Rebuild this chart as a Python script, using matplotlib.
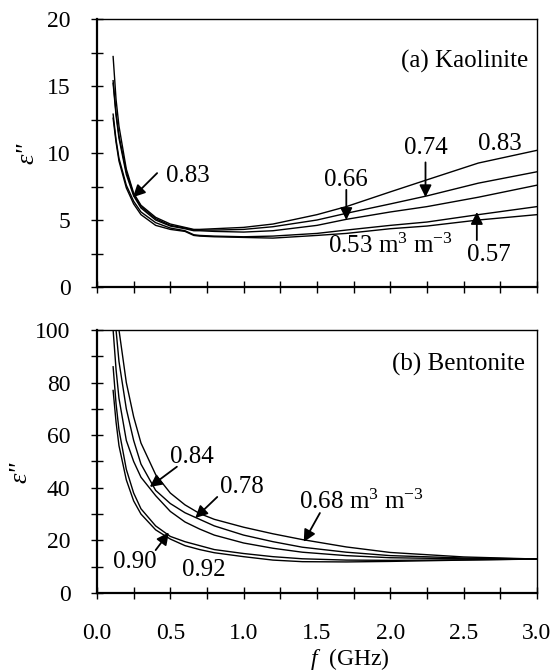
import matplotlib
matplotlib.use("Agg")
import matplotlib.pyplot as plt
from matplotlib.ticker import MultipleLocator

plt.rcParams["font.family"] = ["Liberation Serif", "DejaVu Serif"]
plt.rcParams["mathtext.fontset"] = "custom"
plt.rcParams["mathtext.rm"] = "Liberation Serif"
plt.rcParams["mathtext.it"] = "Liberation Serif:italic"

# (a) Kaolinite: imaginary permittivity vs frequency (GHz)
f_kao = [0.11, 0.13, 0.15, 0.2, 0.25, 0.3, 0.4, 0.5, 0.6, 0.66, 0.7, 0.8, 1.0,
         1.2, 1.5, 1.7, 2.0, 2.25, 2.6, 3.0]
kao_083 = [17.2, 14.0, 12.0, 8.8, 7.0, 6.1, 5.2, 4.7, 4.45, 4.3, 4.3, 4.35, 4.45,
           4.7, 5.4, 6.0, 7.1, 8.0, 9.25, 10.2]
kao_074 = [15.4, 13.0, 11.3, 8.6, 6.9, 6.0, 5.1, 4.6, 4.4, 4.25, 4.25, 4.25, 4.3,
           4.5, 5.0, 5.5, 6.2, 6.8, 7.75, 8.6]
kao_066 = [15.2, 12.8, 11.1, 8.4, 6.8, 5.9, 5.0, 4.55, 4.35, 4.2, 4.2, 4.15, 4.1,
           4.2, 4.6, 5.05, 5.6, 6.0, 6.7, 7.6]
kao_057 = [12.9, 11.0, 9.6, 7.6, 6.4, 5.6, 4.8, 4.4, 4.2, 3.9, 3.85, 3.8, 3.75,
           3.8, 4.0, 4.25, 4.6, 4.85, 5.4, 6.0]
kao_053 = [12.6, 10.8, 9.4, 7.4, 6.2, 5.4, 4.6, 4.3, 4.15, 3.85, 3.8, 3.75, 3.7,
           3.65, 3.85, 4.0, 4.35, 4.55, 5.0, 5.4]

# (b) Bentonite
f_ben = [0.11, 0.13, 0.15, 0.2, 0.25, 0.3, 0.4, 0.5, 0.6, 0.7, 0.8, 1.0, 1.2,
         1.4, 1.7, 2.0, 2.5, 3.0]
ben_068 = [130, 115, 100, 80, 67, 57, 45, 38, 33.5, 30.2, 28, 25, 22.5,
           20.3, 17.5, 15.4, 13.7, 12.9]
ben_078 = [115, 100, 88, 70, 58, 49, 39, 34, 30.5, 28, 25.5, 22, 19.5,
           17.4, 15.5, 14.2, 13.3, 12.9]
ben_084 = [100, 85, 74, 58, 50, 44, 37, 31, 27, 24.3, 22, 19, 17,
           15.5, 14.2, 13.4, 13.0, 12.9]
ben_090 = [86, 72, 62, 47, 38, 32, 25.5, 21.5, 19.5, 18, 16.5, 15, 13.8,
           13.0, 12.5, 12.4, 12.6, 12.9]
ben_092 = [77, 65, 56, 43, 35, 30, 24, 20.5, 18, 16.5, 15.3, 13.8, 12.5,
           11.9, 11.8, 12.0, 12.5, 12.9]

fig = plt.figure(figsize=(5.58, 6.72), dpi=100)
ax1 = fig.add_axes([0.1738, 0.5729, 0.7885, 0.3988])
ax2 = fig.add_axes([0.1738, 0.1176, 0.7885, 0.3914])

for y in [kao_083, kao_074, kao_066, kao_057, kao_053]:
    ax1.plot(f_kao, y, color="k", lw=1.0)
for y in [ben_068, ben_078, ben_084, ben_090, ben_092]:
    ax2.plot(f_ben, y, color="k", lw=1.0)

for ax, ymax, major in [(ax1, 20, 5), (ax2, 100, 20)]:
    ax.set_xlim(0, 3.0)
    ax.set_ylim(0, ymax)
    ax.xaxis.set_major_locator(MultipleLocator(0.5))
    ax.xaxis.set_minor_locator(MultipleLocator(0.25))
    ax.yaxis.set_major_locator(MultipleLocator(major))
    ax.yaxis.set_minor_locator(MultipleLocator(major / 2))
    ax.tick_params(axis="x", which="both", direction="inout", length=9, width=1,
                   labelsize=17, pad=17)
    ax.tick_params(axis="y", which="both", direction="inout", length=8, width=1,
                   labelsize=17, pad=15)
    for s in ["left", "bottom"]:
        ax.spines[s].set_linewidth(1.6)
    for s in ["top", "right"]:
        ax.spines[s].set_linewidth(1.0)
    ax.set_ylabel('ε"', fontsize=19, style="italic")

ax1.tick_params(axis="x", labelbottom=False)
ax1.yaxis.set_label_coords(-0.134, 0.5)
ax2.yaxis.set_label_coords(-0.15, 0.46)
ax2.xaxis.set_major_formatter(plt.FormatStrFormatter("%.1f"))
ax2.set_xlabel(r"$\mathit{f}$  (GHz)", fontsize=17)
ax2.xaxis.set_label_coords(0.575, -0.2)

arrow = dict(arrowstyle="-|>", color="k", lw=1.3, mutation_scale=18,
             shrinkA=0, shrinkB=0)
fs = 18

# panel (a) labels
ax1.text(2.94, 16.8, "(a) Kaolinite", ha="right", va="center", fontsize=fs)
ax1.annotate("", xy=(0.245, 6.7), xytext=(0.41, 8.5), arrowprops=arrow)
ax1.text(0.47, 8.3, "0.83", ha="left", va="center", fontsize=fs)
ax1.annotate("", xy=(1.70, 5.0), xytext=(1.70, 7.25), arrowprops=arrow)
ax1.text(1.70, 8.0, "0.66", ha="center", va="center", fontsize=fs)
ax1.annotate("", xy=(2.24, 6.7), xytext=(2.24, 9.3), arrowprops=arrow)
ax1.text(2.24, 10.4, "0.74", ha="center", va="center", fontsize=fs)
ax1.text(2.75, 10.7, "0.83", ha="center", va="center", fontsize=fs)
ax1.text(2.0, 3.1, r"0.53 m$^{3}$ m$^{-3}$", ha="center", va="center", fontsize=fs)
ax1.annotate("", xy=(2.59, 5.6), xytext=(2.59, 3.5), arrowprops=arrow)
ax1.text(2.67, 2.4, "0.57", ha="center", va="center", fontsize=fs)

# panel (b) labels
ax2.text(2.92, 86.7, "(b) Bentonite", ha="right", va="center", fontsize=fs)
ax2.annotate("", xy=(0.36, 40.3), xytext=(0.545, 48), arrowprops=arrow)
ax2.text(0.65, 51.7, "0.84", ha="center", va="center", fontsize=fs)
ax2.annotate("", xy=(0.67, 28.5), xytext=(0.82, 36.5), arrowprops=arrow)
ax2.text(0.99, 40.3, "0.78", ha="center", va="center", fontsize=fs)
ax2.annotate("", xy=(1.41, 19.4), xytext=(1.52, 30.4), arrowprops=arrow)
ax2.text(1.38, 34.6, r"0.68 m$^{3}$ m$^{-3}$", ha="left", va="center", fontsize=fs)
ax2.annotate("", xy=(0.49, 23), xytext=(0.40, 16.3), arrowprops=arrow)
ax2.text(0.26, 11.8, "0.90", ha="center", va="center", fontsize=fs)
ax2.text(0.73, 8.7, "0.92", ha="center", va="center", fontsize=fs)

fig.savefig("out.png", dpi=100, facecolor="white")
